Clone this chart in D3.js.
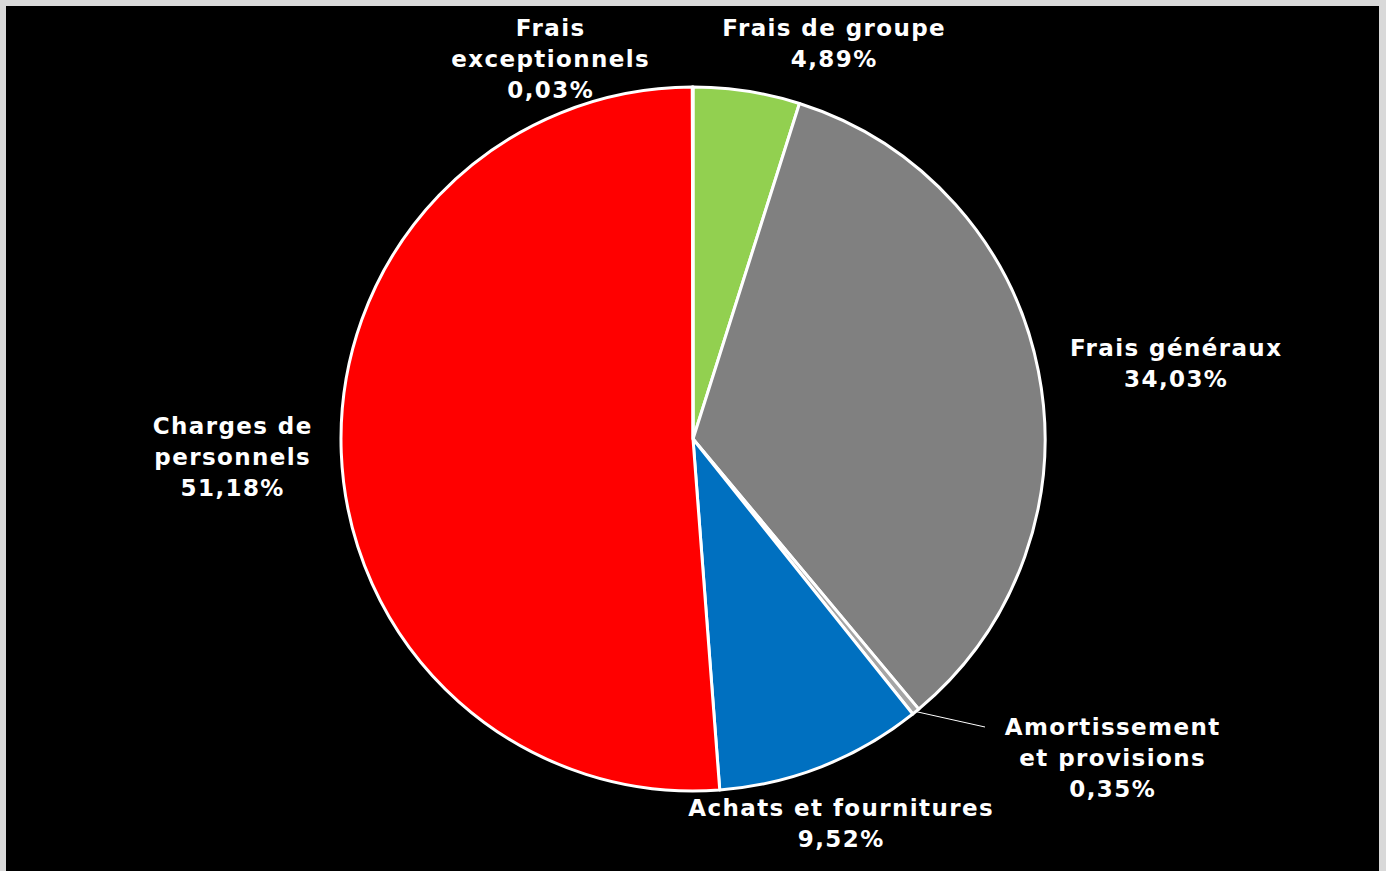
<!DOCTYPE html>
<html>
<head>
<meta charset="utf-8">
<script src="https://cdn.jsdelivr.net/npm/d3@7"></script>
<style>
  html, body { margin: 0; padding: 0; background: #d9d9d9; }
  svg { display: block; }
</style>
</head>
<body>
<svg id="chart" width="1386" height="871"></svg>
<script>
// Répartition des charges (en %)
const categories = [
  "Frais de groupe",
  "Frais généraux",
  "Amortissement et provisions",
  "Achats et fournitures",
  "Charges de personnels",
  "Frais exceptionnels"
];
const values = [4.89, 34.03, 0.35, 9.52, 51.18, 0.03];
const labelLines = [
  ["Frais de groupe"],
  ["Frais généraux"],
  ["Amortissement", "et provisions"],
  ["Achats et fournitures"],
  ["Charges de", "personnels"],
  ["Frais", "exceptionnels"]
];
const colors = ["#92d050", "#808080", "#a5a5a5", "#0070c0", "#ff0000", "#ffc000"];

// Label block centres relative to the pie centre
const labelOffsets = [
  [140.5, -396], [482.5, -75.5], [419, 319], [147.5, 384.5], [-461, 18], [-143, -380.5]
];

const W = 1386, H = 871;
const cx = 693, cy = 439, R = 352;
const fmt = v => d3.format(".2f")(v).replace(".", ",") + "%";

const svg = d3.select("#chart");
svg.append("rect").attr("x", 6).attr("y", 6).attr("width", 1373).attr("height", H - 6).attr("fill", "#000");

const data = categories.map((c, i) => ({ name: c, value: values[i], lines: labelLines[i], color: colors[i], off: labelOffsets[i] }));

const pie = d3.pie().value(d => d.value).sort(null);
const arc = d3.arc().innerRadius(0).outerRadius(R);
const arcs = pie(data);

const g = svg.append("g").attr("transform", `translate(${cx},${cy})`);

g.selectAll("path.slice").data(arcs).join("path")
  .attr("class", "slice")
  .attr("d", arc)
  .attr("fill", d => d.data.color)
  .attr("stroke", "#fff")
  .attr("stroke-width", 3)
  .attr("stroke-linejoin", "round");

// Leader line for the thin slice
const thin = arcs[2];
const mid = (thin.startAngle + thin.endAngle) / 2;
const edge = [Math.sin(mid) * R, -Math.cos(mid) * R];
g.append("line")
  .attr("x1", edge[0]).attr("y1", edge[1])
  .attr("x2", thin.data.off[0] - 127).attr("y2", thin.data.off[1] - 31)
  .attr("stroke", "#fff").attr("stroke-width", 1);

const fs = 23, lh = 31, ls = 1.4;
const labels = g.selectAll("text.lbl").data(arcs).join("text")
  .attr("class", "lbl")
  .attr("text-anchor", "middle")
  .attr("font-family", "'DejaVu Sans', Verdana, sans-serif")
  .attr("font-weight", "bold")
  .attr("font-size", fs)
  .attr("letter-spacing", ls)
  .attr("fill", "#fff");

labels.each(function(d) {
  const lines = d.data.lines.concat([fmt(d.data.value)]);
  const x = d.data.off[0] + ls / 2;
  const y0 = d.data.off[1] - (lines.length - 1) * lh / 2 + fs * 0.36;
  const t = d3.select(this);
  lines.forEach((ln, i) => {
    t.append("tspan").attr("x", x).attr("y", y0 + i * lh).text(ln);
  });
});
</script>
</body>
</html>
